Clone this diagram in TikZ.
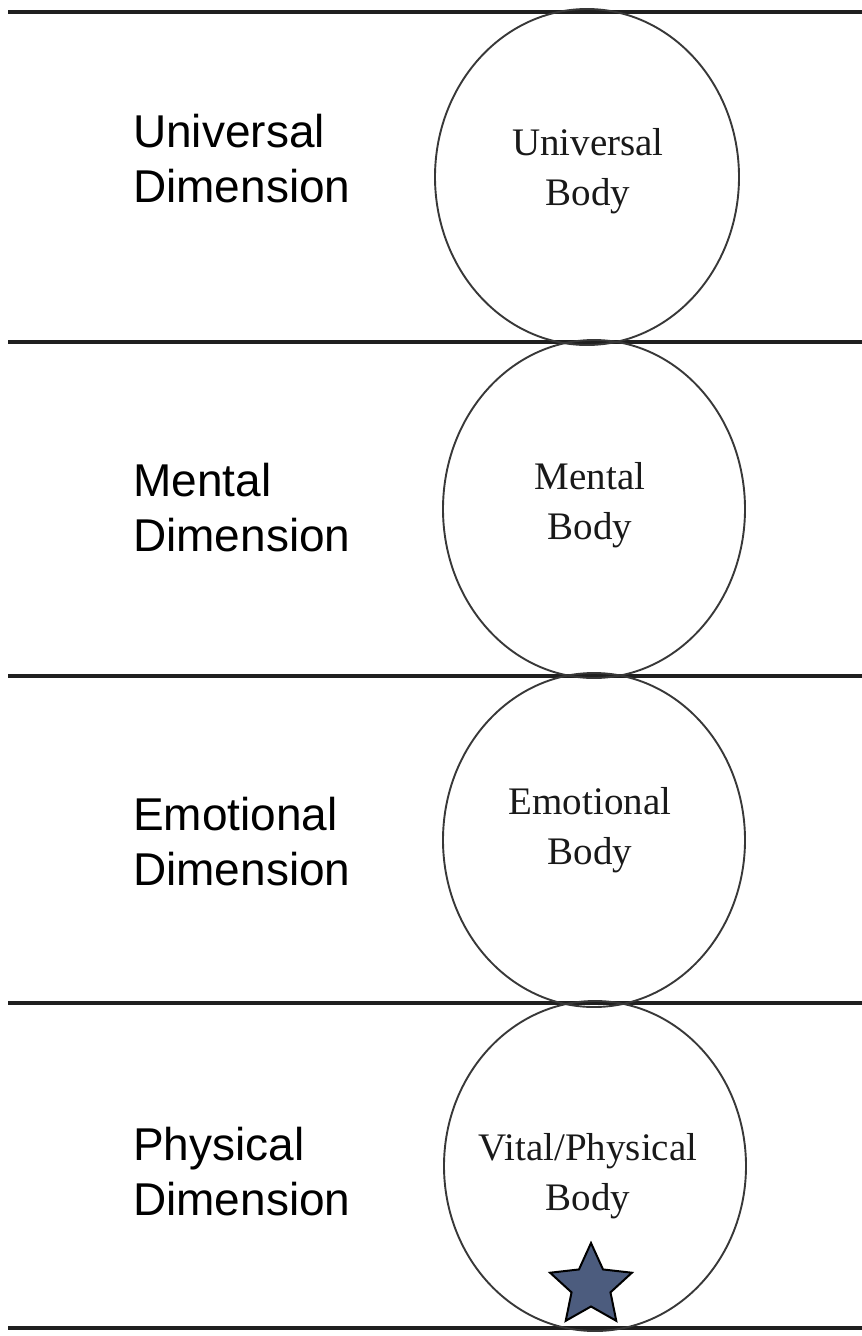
\documentclass[tikz,border=0pt]{standalone}
\usepackage{fontspec}
\setmainfont{Liberation Serif}
\newfontfamily\labelfont{Liberation Sans}
\newfontfamily\bodyfont{Liberation Serif}
\usetikzlibrary{shapes.geometric}
\tikzset{
  rule/.style={line width=4pt, draw=black!88},
  bodyring/.style={ellipse, draw=black!78, line width=1.9pt, inner sep=0pt, outer sep=0pt},
  dimlabel/.style={anchor=west, align=left, inner sep=0pt, font=\labelfont\fontsize{46}{55}\selectfont, text=black},
  bodylabel/.style={align=center, inner sep=0pt, font=\bodyfont\fontsize{39}{50}\selectfont, text=black!90},
  marker/.style={star, star points=5, star point ratio=2.1, minimum size=86pt, inner sep=0pt,
    fill={rgb,255:red,76;green,92;blue,126}, draw=black, line width=2pt}
}
\begin{document}
\begin{tikzpicture}[x=1pt,y=-1pt]
\useasboundingbox (0,0) rectangle (862,1336);
% horizontal rules
\coordinate (l1a) at (8,12);   \coordinate (l1b) at (862,12);
\coordinate (l2a) at (8,342);  \coordinate (l2b) at (862,342);
\coordinate (l3a) at (8,676);  \coordinate (l3b) at (862,676);
\coordinate (l4a) at (8,1003); \coordinate (l4b) at (862,1003);
\coordinate (l5a) at (8,1328); \coordinate (l5b) at (862,1328);
\draw[rule] (l1a) -- (l1b);
\draw[rule] (l2a) -- (l2b);
\draw[rule] (l3a) -- (l3b);
\draw[rule] (l4a) -- (l4b);
\draw[rule] (l5a) -- (l5b);
% body rings
\node[bodyring, minimum width=304pt, minimum height=336pt] (ub) at (587,177) {};
\node[bodyring, minimum width=302pt, minimum height=338pt] (mb) at (594,509) {};
\node[bodyring, minimum width=302pt, minimum height=334pt] (eb) at (594,840) {};
\node[bodyring, minimum width=302pt, minimum height=330pt] (pb) at (595,1166) {};
% body labels
\node[bodylabel] (ubt) at (588,171) {Universal\\Body};
\node[bodylabel] (mbt) at (590,505) {Mental\\Body};
\node[bodylabel] (ebt) at (590,830) {Emotional\\Body};
\node[bodylabel] (pbt) at (588,1176) {Vital/Physical\\Body};
% dimension labels
\node[dimlabel] (ud) at (133,159) {Universal\\Dimension};
\node[dimlabel] (md) at (133,508) {Mental\\Dimension};
\node[dimlabel] (ed) at (133,842) {Emotional\\Dimension};
\node[dimlabel] (pd) at (133,1172) {Physical\\Dimension};
% star
\node[marker] (st) at (591,1286) {};
\end{tikzpicture}
\end{document}
